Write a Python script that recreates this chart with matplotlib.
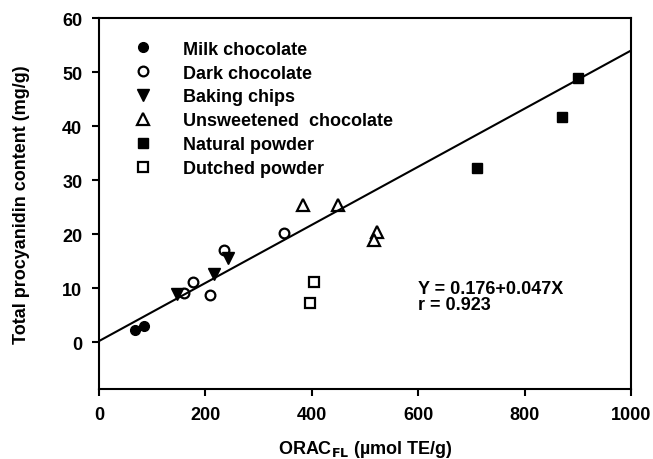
import numpy as np
import matplotlib.pyplot as plt

plt.rcParams['font.family'] = ['Liberation Sans', 'DejaVu Sans']
plt.rcParams['font.weight'] = 'bold'

milk_x = [67, 85]
milk_y = [2.3, 3.0]
dark_x = [160, 176, 208, 235, 347]
dark_y = [9.0, 11.1, 8.7, 17.0, 20.2]
chips_x = [146, 216, 242]
chips_y = [8.9, 12.6, 15.6]
unsw_x = [383, 450, 523, 516]
unsw_y = [25.4, 25.4, 20.3, 18.9]
natural_x = [710, 870, 900]
natural_y = [32.2, 41.6, 48.8]
dutched_x = [405, 396]
dutched_y = [11.1, 7.2]

line_intercept = 0.176
line_slope = 0.0538
eq_text = "Y = 0.176+0.047X"
r_text = "r = 0.923"

fs = 13

fig = plt.figure(figsize=(6.53, 4.60), dpi=100)
ax = fig.add_axes([99/653, 1 - 390/460, 532/653, 371/460])

ms = 7
ew = 1.6
ax.plot(milk_x, milk_y, 'o', color='black', ms=ms, label='Milk chocolate')
ax.plot(dark_x, dark_y, 'o', mfc='white', mec='black', mew=ew, ms=ms, label='Dark chocolate')
ax.plot(chips_x, chips_y, 'v', color='black', ms=ms + 1, label='Baking chips')
ax.plot(unsw_x, unsw_y, '^', mfc='white', mec='black', mew=ew, ms=ms + 1, label='Unsweetened  chocolate')
ax.plot(natural_x, natural_y, 's', color='black', ms=ms, label='Natural powder')
ax.plot(dutched_x, dutched_y, 's', mfc='white', mec='black', mew=ew, ms=ms, label='Dutched powder')

xs = np.array([0, 1000])
ax.plot(xs, line_intercept + line_slope * xs, color='black', lw=1.5)

ax.set_xlim(0, 1000)
ax.set_ylim(-8.7, 60)
ax.set_xticks(np.arange(0, 1001, 200))
ax.set_yticks(np.arange(0, 61, 10))
for s in ax.spines.values():
    s.set_linewidth(1.5)
ax.tick_params(direction='out', length=5, width=1.5, labelsize=fs, pad=7)
for lab in ax.get_xticklabels() + ax.get_yticklabels():
    lab.set_fontweight('bold')

ax.set_xlabel('ORAC$_{\\mathbf{FL}}$ (\u00b5mol TE/g)', fontsize=fs, fontweight='bold', labelpad=11)
ax.set_ylabel('Total procyanidin content (mg/g)', fontsize=fs, fontweight='bold', labelpad=23)

ax.text(0.60, 0.272, eq_text, transform=ax.transAxes, fontsize=fs, fontweight='bold', va='center')
ax.text(0.60, 0.229, r_text, transform=ax.transAxes, fontsize=fs, fontweight='bold', va='center')

leg = ax.legend(loc='upper left', bbox_to_anchor=(0.042, 0.968), frameon=False,
                handlelength=1.2, handletextpad=1.6, labelspacing=0.38,
                borderaxespad=0.2, prop={'size': fs, 'weight': 'bold'})

fig.savefig('out.png', dpi=100)
